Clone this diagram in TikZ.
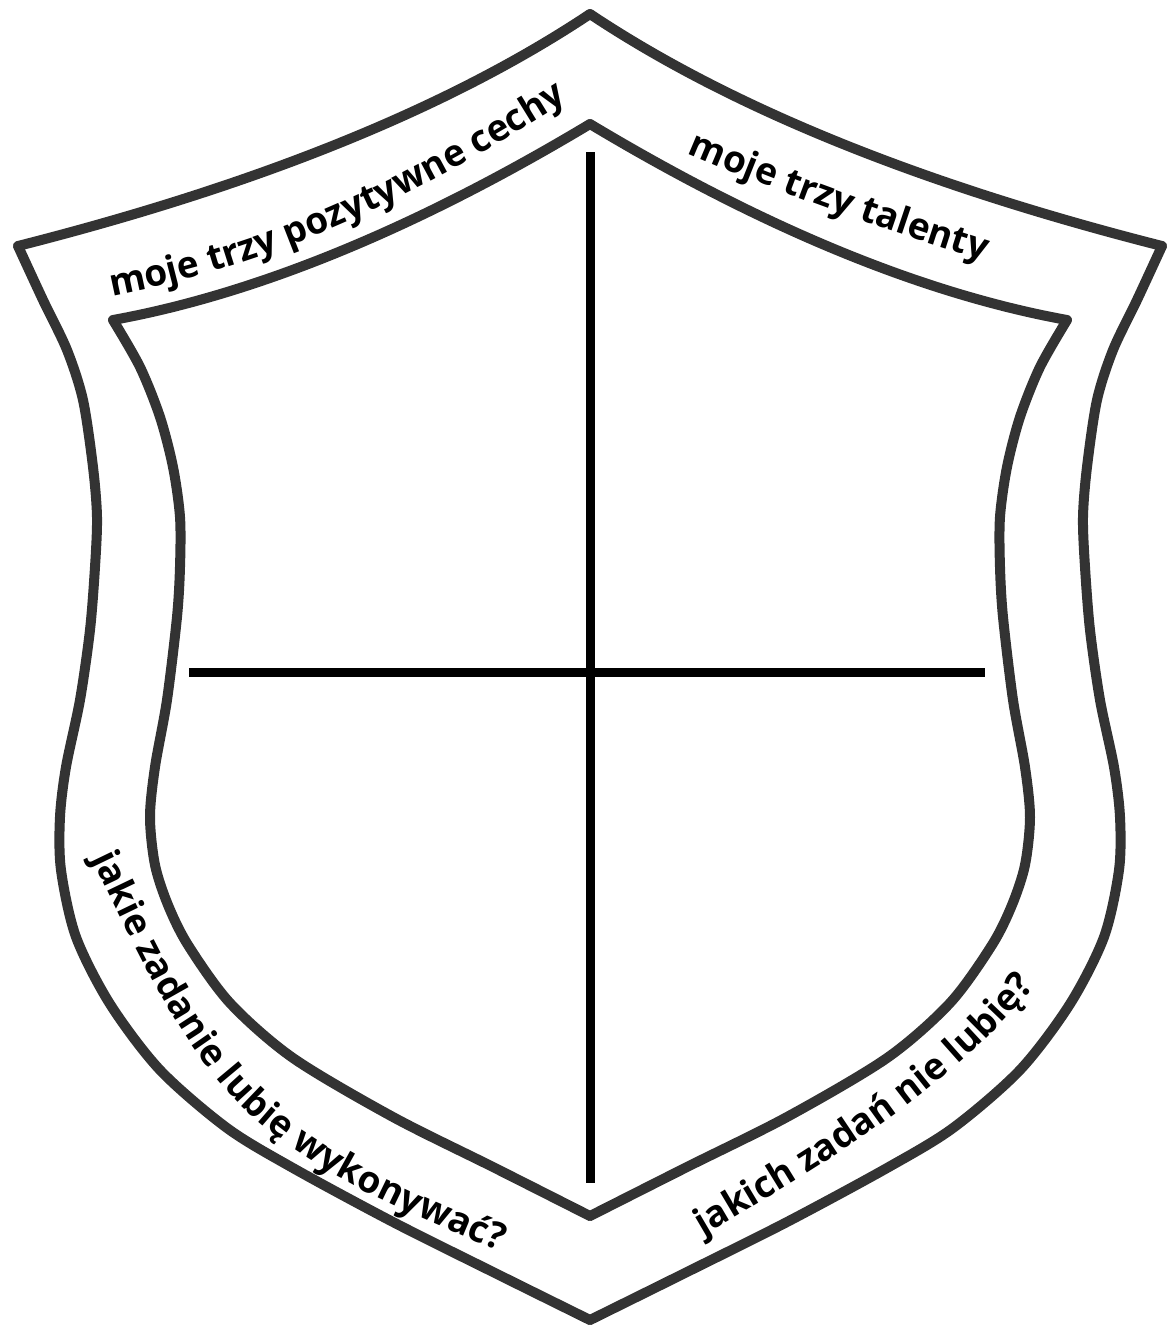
\documentclass[tikz,border=0pt]{standalone}
\usepackage{fontspec}
\setmainfont{Open Sans}
\usetikzlibrary{decorations.text}
\definecolor{shieldgray}{HTML}{333333}
\newcommand\bandfont{\bfseries\fontsize{9.25}{11}\selectfont}
\tikzset{
  edge/.style={draw=shieldgray, line width=2.5pt, line cap=round, line join=round},
  crossline/.style={draw=black, line width=2.25pt},
  bandtext/.style={decorate, decoration={text along path, text color=black, text={|\bandfont|#1}}},
}
\newcommand\outerhalf{%
  \draw[edge] (18,246) .. controls (258,185) and (449,108) .. (590,14);
  \draw[edge] plot[smooth] coordinates {(18,246) (43,300) (67,350) (83,400) (93,467) (97,517) (95,567) (90,630) (80,700) (66,767) (60,817) (61,870) (76,937) (110,1004) (160,1070) (227,1128) (293,1168) (393,1222) (493,1272) (590,1320)};
  \draw[edge] (113,320) .. controls (256,294) and (415,229) .. (590,124);
  \draw[edge] plot[smooth] coordinates {(113,320) (140,367) (160,417) (173,467) (180,517) (180,567) (177,617) (167,700) (155,767) (150,817) (155,865) (168,905) (188,945) (230,1003) (293,1058) (393,1117) (493,1167) (590,1216)};
}
\begin{document}
\begin{tikzpicture}[x=0.25pt,y=-0.25pt]
\useasboundingbox (0,0) rectangle (1167,1330);
\outerhalf
\begin{scope}[shift={(1180,0)}, xscale=-1]
\outerhalf
\end{scope}
% cross
\draw[crossline] (590,152) -- (590,1183);
\draw[crossline] (189,672) -- (985,672);
% texts
\path[bandtext={moje trzy pozytywne cechy}] (112,296) .. controls (289,261) and (423,195) .. (600,80);
\path[bandtext={moje trzy talenty}] (687,153) .. controls (801,202) and (916,241) .. (1030,275);
\path[bandtext={jakie zadanie lubię wykonywać?}] (92,858) .. controls (140,957) and (189,1071) .. (277,1137) .. controls (361,1200) and (463,1235) .. (560,1276);
\path[bandtext={jakich zadań nie lubię?}] (703,1236) .. controls (826,1164) and (949,1090) .. (1035,985) -- (1065,948);
\end{tikzpicture}
\end{document}
